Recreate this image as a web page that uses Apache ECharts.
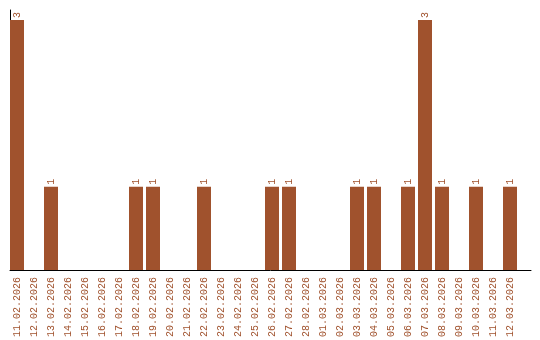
<!DOCTYPE html>
<html>
<head>
<meta charset="utf-8">
<script src="https://cdn.jsdelivr.net/npm/echarts@6/dist/echarts.min.js"></script>
<style>html,body{margin:0;padding:0;background:#fff}#c{width:540px;height:340px}</style>
</head>
<body>
<div id="c"></div>
<script>
const dates = ["11.02.2026","12.02.2026","13.02.2026","14.02.2026","15.02.2026","16.02.2026","17.02.2026","18.02.2026","19.02.2026","20.02.2026","21.02.2026","22.02.2026","23.02.2026","24.02.2026","25.02.2026","26.02.2026","27.02.2026","28.02.2026","01.03.2026","02.03.2026","03.03.2026","04.03.2026","05.03.2026","06.03.2026","07.03.2026","08.03.2026","09.03.2026","10.03.2026","11.03.2026","12.03.2026"];
const counts = [3,0,1,0,0,0,0,1,1,0,0,1,0,0,0,1,1,0,0,0,1,1,0,1,3,1,0,1,0,1];

const color = '#A0522D';
const chart = echarts.init(document.getElementById('c'), null, {renderer:'canvas'});
chart.setOption({
  animation: false,
  grid: [
    {left: 8.5, right: 21.5, top: 10, bottom: 70},
    {left: 10, right: 9, top: 10, bottom: 70}
  ],
  xAxis: [
    {type:'category', gridIndex:0, data: dates, boundaryGap: true,
     axisLine:{show:false}, axisTick:{show:false}, splitLine:{show:false},
     axisLabel:{rotate:90, interval:0, color: color, fontFamily:'Liberation Mono', fontSize:10, margin:7}},
    {type:'value', gridIndex:1, min:0, max:1,
     axisLine:{show:true, lineStyle:{color:'#000', width:1}}, axisTick:{show:false}, axisLabel:{show:false}, splitLine:{show:false}}
  ],
  yAxis: [
    {type:'value', gridIndex:0, min:0, max:3.12,
     axisLine:{show:false}, axisTick:{show:false}, axisLabel:{show:false}, splitLine:{show:false}},
    {type:'value', gridIndex:1, min:0, max:1,
     axisLine:{show:true, lineStyle:{color:'#000', width:1}}, axisTick:{show:false}, axisLabel:{show:false}, splitLine:{show:false}}
  ],
  series: [{
    type:'bar', xAxisIndex:0, yAxisIndex:0,
    data: counts.map(v => v === 0 ? null : v),
    barWidth: 14,
    itemStyle:{color: color},
    label:{show:true, position:'top', rotate:90, align:'left', verticalAlign:'middle', distance:2,
      color: color, fontFamily:'Liberation Mono', fontSize:10}
  }]
});
</script>
</body>
</html>
